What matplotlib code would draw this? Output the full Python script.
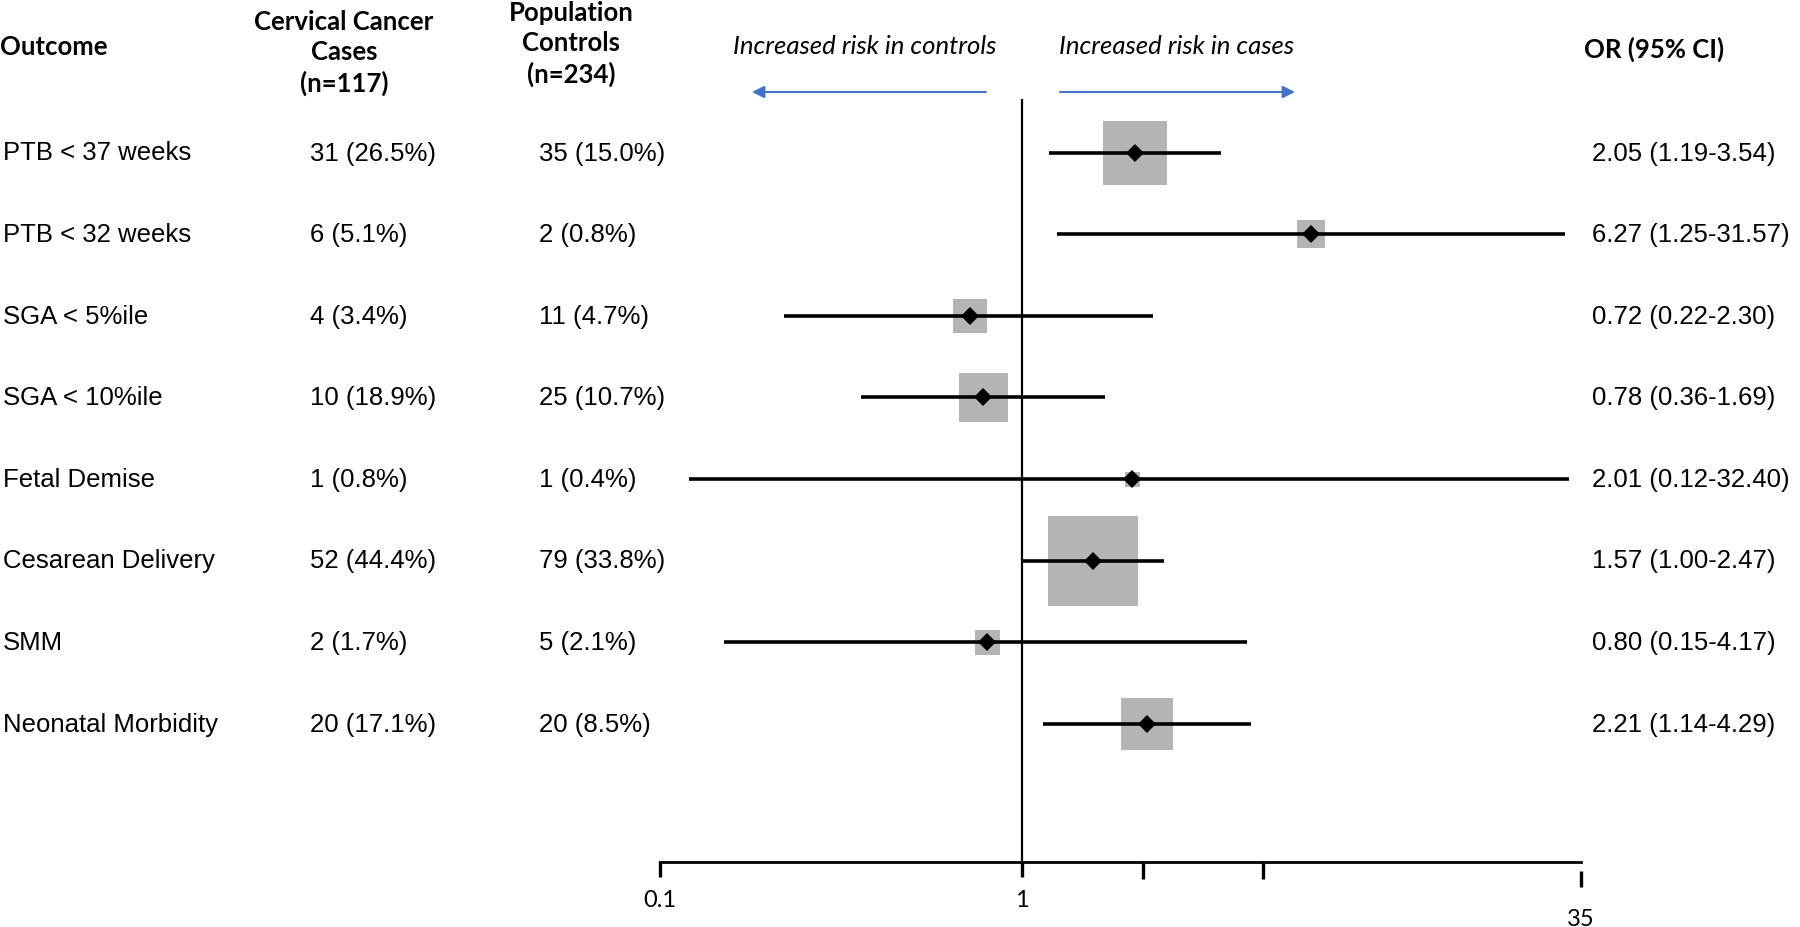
import matplotlib
matplotlib.use("Agg")
import matplotlib.pyplot as plt
from matplotlib import transforms

# ---- data ----
outcomes = ["PTB < 37 weeks", "PTB < 32 weeks", "SGA < 5%ile", "SGA < 10%ile",
            "Fetal Demise", "Cesarean Delivery", "SMM", "Neonatal Morbidity"]
cases = ["31 (26.5%)", "6 (5.1%)", "4 (3.4%)", "10 (18.9%)",
         "1 (0.8%)", "52 (44.4%)", "2 (1.7%)", "20 (17.1%)"]
controls = ["35 (15.0%)", "2 (0.8%)", "11 (4.7%)", "25 (10.7%)",
            "1 (0.4%)", "79 (33.8%)", "5 (2.1%)", "20 (8.5%)"]
odds_ratio = [2.05, 6.27, 0.72, 0.78, 2.01, 1.57, 0.80, 2.21]
ci_low = [1.19, 1.25, 0.22, 0.36, 0.12, 1.00, 0.15, 1.14]
ci_high = [3.54, 31.57, 2.30, 1.69, 32.40, 2.47, 4.17, 4.29]
# relative weight -> box side (px)
box_weight = [64, 27, 34, 49, 15, 90, 25, 52]

tick_values = [0.1, 1, 35]
minor_ticks = [10 ** (1 / 3), 10 ** (2 / 3)]

W, H, DPI = 1800, 928, 100
ROW_FONT = "Liberation Sans"
HEAD_FONT = "Lato"


def fx(px):
    return px / W


def fy(py):
    return 1 - py / H


fig = plt.figure(figsize=(W / DPI, H / DPI), dpi=DPI)

# forest panel: x from 0.1 (660px) to 35 (1581px), y from 100px to 863px
x0, x1 = 660, 1581
y_top, y_bot = 100, 863
first_row, row_gap = 153.5, 81.6
ax = fig.add_axes([fx(x0), fy(y_bot), fx(x1) - fx(x0), (y_bot - y_top) / H])
ax.set_xscale("log")
ax.set_xlim(0.1, 35)
n = len(outcomes)
ax.set_ylim((y_bot - first_row) / row_gap, (y_top - first_row) / row_gap)
ax.axis("off")

rows = list(range(n))
for i in rows:
    ax.plot([ci_low[i], ci_high[i]], [i, i], color="black", lw=2.6,
            solid_capstyle="butt", zorder=2)
    ax.plot(odds_ratio[i], i, marker="s", markersize=box_weight[i] * 72 / DPI,
            color="#b4b4b4", markeredgewidth=0, zorder=1)
    ax.plot(odds_ratio[i], i, marker="D", markersize=9.5, color="black",
            markeredgewidth=0, zorder=3)

# reference line at OR = 1
ax.axvline(1, color="black", lw=1.6)

# x axis line and hand-made ticks
ax.plot([0.1, 35], [0, 0], transform=ax.get_xaxis_transform(),
        color="black", lw=2, clip_on=False)
tk = transforms.blended_transform_factory(ax.transData, fig.transFigure)
tick_kw = dict(transform=tk, color="black", lw=2.4, clip_on=False,
               solid_capstyle="butt")
ax.plot([0.1, 0.1], [fy(862), fy(878)], **tick_kw)
ax.plot([1, 1], [fy(862), fy(878)], **tick_kw)
for m in minor_ticks:
    ax.plot([m, m], [fy(864), fy(880)], **tick_kw)
ax.plot([35, 35], [fy(872), fy(888)], **tick_kw)
for v, lab_y in zip(tick_values, [901, 901, 920]):
    t = fig.text(0, fy(lab_y), f"{v:g}", ha="center", va="center",
                 fontsize=17, family=HEAD_FONT)
    t.set_transform(tk)
    t.set_x(v)

# table text
tr = transforms.blended_transform_factory(fig.transFigure, ax.transData)
for i in rows:
    kw = dict(transform=tr, va="center", fontsize=18.5, family=ROW_FONT)
    fig.text(fx(3), i, outcomes[i], **kw)
    fig.text(fx(310), i, cases[i], **kw)
    fig.text(fx(539), i, controls[i], **kw)
    fig.text(fx(1592), i, f"{odds_ratio[i]:.2f} ({ci_low[i]:.2f}-{ci_high[i]:.2f})", **kw)

# headers
hkw = dict(fontsize=18.5, fontweight="bold", family=HEAD_FONT, ha="center", va="center",
           linespacing=1.3)
fig.text(fx(0), fy(47), "Outcome", **{**hkw, "ha": "left"})
fig.text(fx(344), fy(53), "Cervical Cancer\nCases\n(n=117)", **hkw)
fig.text(fx(571), fy(44), "Population\nControls\n(n=234)", **hkw)
fig.text(fx(1584), fy(49), "OR (95% CI)", **{**hkw, "ha": "left"})

# direction labels and arrows
ikw = dict(fontsize=18.5, style="italic", family=HEAD_FONT, ha="center", va="center")
fig.text(fx(865), fy(46), "Increased risk in controls", **ikw)
fig.text(fx(1177), fy(46), "Increased risk in cases", **ikw)
akw = dict(xycoords="figure fraction", textcoords="figure fraction",
           arrowprops=dict(arrowstyle="-|>", color="#4472c4", lw=1.5, mutation_scale=18,
                           shrinkA=0, shrinkB=0))
ax.annotate("", xy=(fx(752), fy(93)), xytext=(fx(986), fy(93)), **akw)
ax.annotate("", xy=(fx(1295), fy(93)), xytext=(fx(1060), fy(93)), **akw)

fig.savefig("out.png", dpi=DPI)
